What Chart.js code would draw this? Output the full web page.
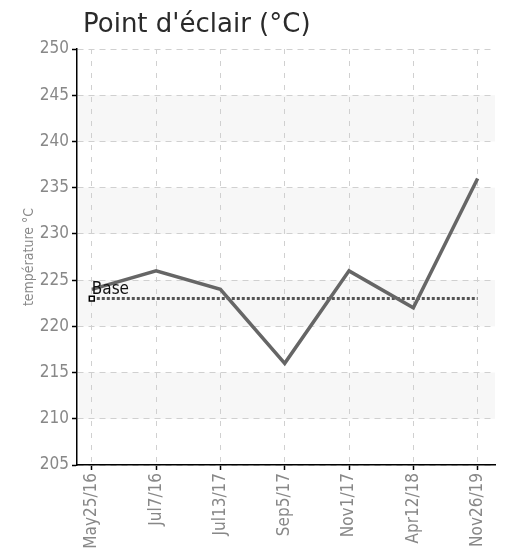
<!DOCTYPE html>
<html>
<head>
<meta charset="utf-8">
<script src="https://cdn.jsdelivr.net/npm/chart.js@4/dist/chart.umd.min.js"></script>
<style>
html,body{margin:0;padding:0;background:#fff;}
#wrap{width:508px;height:549px;}
</style>
</head>
<body>
<div id="wrap"><canvas id="c" width="508" height="549"></canvas></div>
<script>
const categories = ["May25/16","Jul7/16","Jul13/17","Sep5/17","Nov1/17","Apr12/18","Nov26/19"];
const flashPoint = [224, 226, 224, 216, 226, 222, 236];
const baseValue = [223, 223, 223, 223, 223, 223, 223];
const yTicks = [205, 210, 215, 220, 225, 230, 235, 240, 245, 250];
const bandRanges = [[240,245],[230,235],[220,225],[210,215]];
const titleText = "Point d'éclair (°C)";
const yTitle = "température °C";
const baseLabel = "Base";

const NARROW = "'Liberation Sans Narrow','DejaVu Sans Condensed','Roboto',sans-serif";

const bandsPlugin = {
  id: 'bands',
  beforeDraw(chart) {
    const {ctx, chartArea, scales} = chart;
    ctx.save();
    ctx.fillStyle = '#f7f7f7';
    bandRanges.forEach(([a,b]) => {
      const y1 = scales.y.getPixelForValue(b);
      const y2 = scales.y.getPixelForValue(a);
      ctx.fillRect(chartArea.left + 2, y1, chartArea.right - chartArea.left - 2, y2 - y1);
    });
    ctx.restore();
  }
};

const titlePlugin = {
  id: 'ttl',
  afterDraw(chart) {
    const ctx = chart.ctx;
    ctx.save();
    ctx.font = "26px 'DejaVu Sans', sans-serif";
    ctx.fillStyle = '#2a2a2a';
    ctx.textBaseline = 'alphabetic';
    ctx.fillText(titleText, 83, 32);
    ctx.restore();
  }
};

const baseLabelPlugin = {
  id: 'baseLabel',
  afterDatasetsDraw(chart) {
    const meta = chart.getDatasetMeta(1);
    const p = meta.data[0];
    if (!p) return;
    const ctx = chart.ctx;
    ctx.save();
    ctx.font = "17px " + NARROW;
    ctx.fillStyle = '#111';
    ctx.textBaseline = 'alphabetic';
    ctx.fillText(baseLabel, p.x, p.y - 5);
    ctx.restore();
  }
};

new Chart(document.getElementById('c'), {
  type: 'line',
  data: {
    datasets: [
      {
        label: 'flash',
        data: flashPoint.map((v,i)=>({x:i,y:v})),
        borderColor: '#666',
        borderWidth: 3.5,
        pointRadius: 0,
        tension: 0,
        fill: false
      },
      {
        label: 'base',
        data: baseValue.map((v,i)=>({x:i,y:v})),
        borderColor: '#555',
        borderWidth: 3,
        borderDash: [3,2],
        pointRadius: baseValue.map((v,i)=> i===0 ? 3.5 : 0),
        pointStyle: 'rect',
        pointBackgroundColor: '#fff',
        pointBorderColor: '#000',
        pointBorderWidth: 1.5,
        tension: 0,
        fill: false
      }
    ]
  },
  options: {
    responsive: false,
    animation: false,
    devicePixelRatio: 1,
    layout: { padding: { top: 49, right: 13, left: 0, bottom: 0 } },
    plugins: {
      legend: { display: false },
      title: { display: false },
      tooltip: { enabled: false }
    },
    scales: {
      x: {
        type: 'linear',
        min: -0.23,
        max: 6.27,
        afterBuildTicks(scale) { scale.ticks = categories.map((_,i)=>({value:i})); },
        afterFit(scale) { scale.height = 84; },
        ticks: {
          callback: (v) => categories[v] ?? '',
          color: '#888',
          font: { family: NARROW, size: 17 },
          minRotation: 90,
          maxRotation: 90,
          autoSkip: false,
          padding: 3
        },
        grid: {
          color: '#d0d0d0',
          lineWidth: 1,
          drawTicks: true,
          tickLength: 5,
          tickColor: '#000',
          tickBorderDash: [],
          tickWidth: 1.5
        },
        border: { display: true, color: '#000', width: 1.5, dash: [5,7] }
      },
      y: {
        type: 'linear',
        min: 205,
        max: 250,
        afterBuildTicks(scale) { scale.ticks = yTicks.map(v=>({value:v})); },
        afterFit(scale) { scale.width = 77; },
        title: {
          display: true,
          text: yTitle,
          color: '#888',
          font: { family: NARROW, size: 14 },
          padding: { top: 21, bottom: 0 }
        },
        ticks: {
          color: '#888',
          font: { family: NARROW, size: 17 },
          padding: 3
        },
        grid: {
          color: '#d0d0d0',
          lineWidth: 1,
          drawTicks: true,
          tickLength: 5,
          tickColor: '#000',
          tickBorderDash: [],
          tickWidth: 1.5
        },
        border: { display: true, color: '#000', width: 1.5, dash: [6,5] }
      }
    }
  },
  plugins: [bandsPlugin, titlePlugin, baseLabelPlugin]
});
</script>
</body>
</html>
